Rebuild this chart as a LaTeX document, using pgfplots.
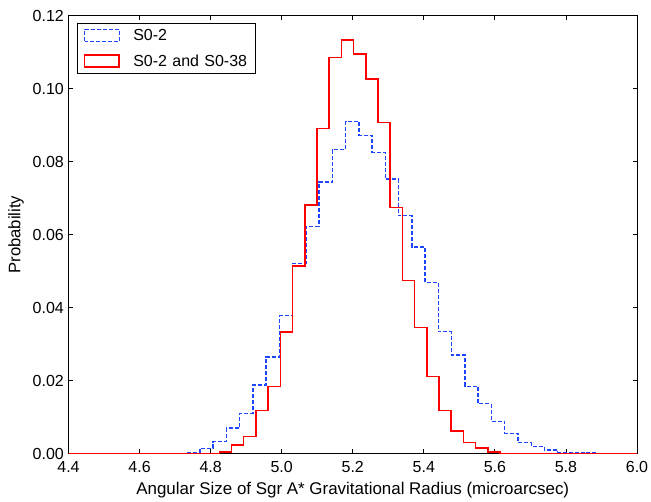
\documentclass[border=0pt]{standalone}
\usepackage{fontspec}
\setmainfont{Liberation Sans}
\usepackage{pgfplots}
\pgfplotsset{compat=1.18}
\definecolor{mplblue}{RGB}{30,70,255}
\begin{document}
\begin{tikzpicture}
\begin{axis}[
  name=ax,
  width=426.4pt, height=328.5pt, scale only axis,
  xmin=4.4, xmax=6.0, ymin=0, ymax=0.12,
  xtick={4.4,4.6,4.8,5.0,5.2,5.4,5.6,5.8,6.0},
  ytick={0,0.02,0.04,0.06,0.08,0.10,0.12},
  tick align=inside, tick pos=both,
  major tick length=3.3pt,
  axis line style={line width=0.75pt},
  tick style={black, line width=0.6pt},
  /pgf/number format/assume math mode=true,
  xticklabel style={yshift=-2pt, /pgf/number format/.cd, fixed, fixed zerofill, precision=1},
  yticklabel style={/pgf/number format/.cd, fixed, fixed zerofill, precision=2},
  scaled y ticks=false,
  tick label style={font=\fontsize{12}{14}\selectfont},
  xlabel={Angular Size of Sgr A* Gravitational Radius (microarcsec)},
  ylabel={Probability},
  every axis x label/.style={at={(axis description cs:0.5,0)}, yshift=-27pt,
    anchor=center, font=\fontsize{12.7}{14}\selectfont},
  every axis y label/.style={at={(axis description cs:0,0.5)}, xshift=-39.4pt,
    rotate=90, anchor=center, font=\fontsize{12.5}{14}\selectfont},
  legend style={at={(axis description cs:0,1)}, xshift=6.1pt, yshift=-5.25pt,
    anchor=north west, draw=black, line width=0.75pt,
    font=\fontsize{12}{14}\selectfont, inner xsep=5pt, inner ysep=4pt,
    nodes={inner sep=0pt, text height=8.6pt, text depth=0pt, text width=87pt}, row sep=9.4pt},
  legend cell align=left,
  legend image code/.code={\draw[#1] (0pt,-4.5pt) rectangle (26pt,4.5pt); \path (36pt,0pt);},
]
\addplot[const plot, mplblue, line width=1pt, dash pattern=on 3pt off 1.5pt] coordinates {
(4.4,0) (4.695,0.0001) (4.7323,0.0004) (4.7696,0.0015) (4.8069,0.0033) (4.8442,0.0070)
(4.8815,0.0111) (4.9188,0.0188) (4.9561,0.0265) (4.9934,0.0378) (5.0307,0.0522)
(5.0680,0.0622) (5.1053,0.0744) (5.1426,0.0833) (5.1799,0.0911) (5.2172,0.0872)
(5.2545,0.0826) (5.2918,0.0753) (5.3291,0.0652) (5.3664,0.0566) (5.4037,0.0469)
(5.4410,0.0334) (5.4783,0.0270) (5.5156,0.0185) (5.5529,0.0137) (5.5902,0.0088)
(5.6275,0.0055) (5.6648,0.0030) (5.7021,0.0020) (5.7394,0.0010) (5.7767,0.0004)
(5.8140,0.0003) (5.8513,0.0002) (5.8886,0.0001) (5.9259,0) (6.0,0)
};
\addlegendentry{S0-2}
\addplot[const plot, red, line width=1.1pt] coordinates {
(4.4,0) (4.8244,0.0005) (4.8588,0.0024) (4.8931,0.0047) (4.9275,0.0118) (4.9618,0.0184)
(4.9962,0.0334) (5.0305,0.0514) (5.0649,0.0681) (5.0992,0.0891) (5.1336,0.1085)
(5.1679,0.1133) (5.2023,0.1095) (5.2366,0.1027) (5.2710,0.0908) (5.3053,0.0674)
(5.3397,0.0475) (5.3740,0.0346) (5.4084,0.0211) (5.4427,0.0118) (5.4771,0.0062)
(5.5114,0.0031) (5.5458,0.0016) (5.5801,0.0005) (5.6145,0.0001) (5.6488,0) (6.0,0)
};
\addlegendentry{\mbox{S0-2 and S0-38}}
\end{axis}
\pgfresetboundingbox
\path ([xshift=-51.4pt,yshift=-36.2pt]ax.south west) rectangle ([xshift=10.5pt,yshift=11.8pt]ax.north east);
\end{tikzpicture}
\end{document}
